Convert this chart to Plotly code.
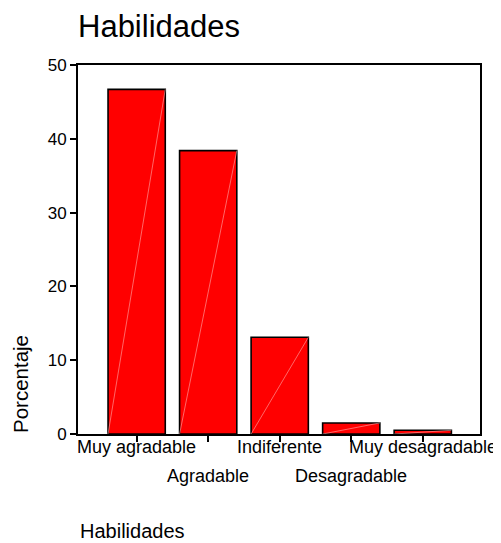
import plotly.graph_objects as go

categories = ["Muy agradable", "Agradable", "Indiferente", "Desagradable", "Muy desagradable"]
percentages = [46.7, 38.4, 13.1, 1.5, 0.5]
y_ticks = [0, 10, 20, 30, 40, 50]
chart_title = "Habilidades"
x_title = "Habilidades"
y_title = "Porcentaje"

FONT = "Liberation Sans, Arial, sans-serif"
positions = list(range(len(categories)))
bar_w = 0.8
x_range = [-0.82, len(categories) - 0.2]

# page body has an 8px default margin: size the figure to fit the window
OFF = 8
W, H = 501 - OFF, 543 - OFF
L, T = 78 - OFF, 65 - OFF
PW, PH = 402, 369

fig = go.Figure()
fig.add_trace(go.Bar(
    x=positions, y=percentages, width=bar_w,
    marker=dict(color="#FF0000", line=dict(color="black", width=1.6)),
    showlegend=False, hoverinfo="skip",
))
# faint diagonal seam inside each bar (bottom-left to top-right)
for p, v in zip(positions, percentages):
    fig.add_trace(go.Scatter(
        x=[p - bar_w / 2, p + bar_w / 2], y=[0, v], mode="lines",
        line=dict(color="rgba(255,185,185,0.7)", width=0.8),
        showlegend=False, hoverinfo="skip",
    ))

# category labels staggered on two rows below the axis
label_annotations = []
for p, c in zip(positions, categories):
    row_y = 447 if p % 2 == 0 else 476.5
    label_annotations.append(dict(
        text=c, xref="x", yref="paper", x=p, y=(434 - row_y) / PH,
        xanchor="center", yanchor="middle", showarrow=False,
        font=dict(size=18, family=FONT, color="black"),
    ))

fig.update_layout(
    width=W, height=H,
    margin=dict(l=L, r=W - L - PW, t=T, b=H - T - PH, autoexpand=False),
    paper_bgcolor="white", plot_bgcolor="white",
    font=dict(family=FONT, color="black"),
    title=dict(text=chart_title, x=L / W, xref="container", xanchor="left",
               y=1 - (26 - OFF) / H, yref="container", yanchor="middle",
               font=dict(size=31, family=FONT, color="black")),
    xaxis=dict(
        range=x_range, tickmode="array", tickvals=positions,
        ticktext=[""] * len(positions),
        ticks="outside", ticklen=6, tickwidth=1.5, tickcolor="black",
        showline=True, linecolor="black", linewidth=2, mirror=True,
        showgrid=False, zeroline=False,
    ),
    yaxis=dict(
        range=[0, 50], tickmode="array", tickvals=y_ticks,
        ticks="outside", ticklen=6, tickwidth=1.5, tickcolor="black",
        showline=True, linecolor="black", linewidth=2, mirror=True,
        showgrid=False, zeroline=False,
        tickfont=dict(size=17, family=FONT, color="black"),
    ),
    annotations=label_annotations + [
        dict(text=y_title, textangle=-90, xref="paper", yref="paper",
             x=(20 - 78) / PW, y=(434 - 384) / PH, xanchor="center", yanchor="middle",
             showarrow=False, font=dict(size=20.5, family=FONT, color="black")),
        dict(text=x_title, xref="paper", yref="paper",
             x=0, y=(434 - 531) / PH, xanchor="left", yanchor="middle",
             showarrow=False, font=dict(size=20, family=FONT, color="black")),
    ],
)

fig.write_html("out.html")
